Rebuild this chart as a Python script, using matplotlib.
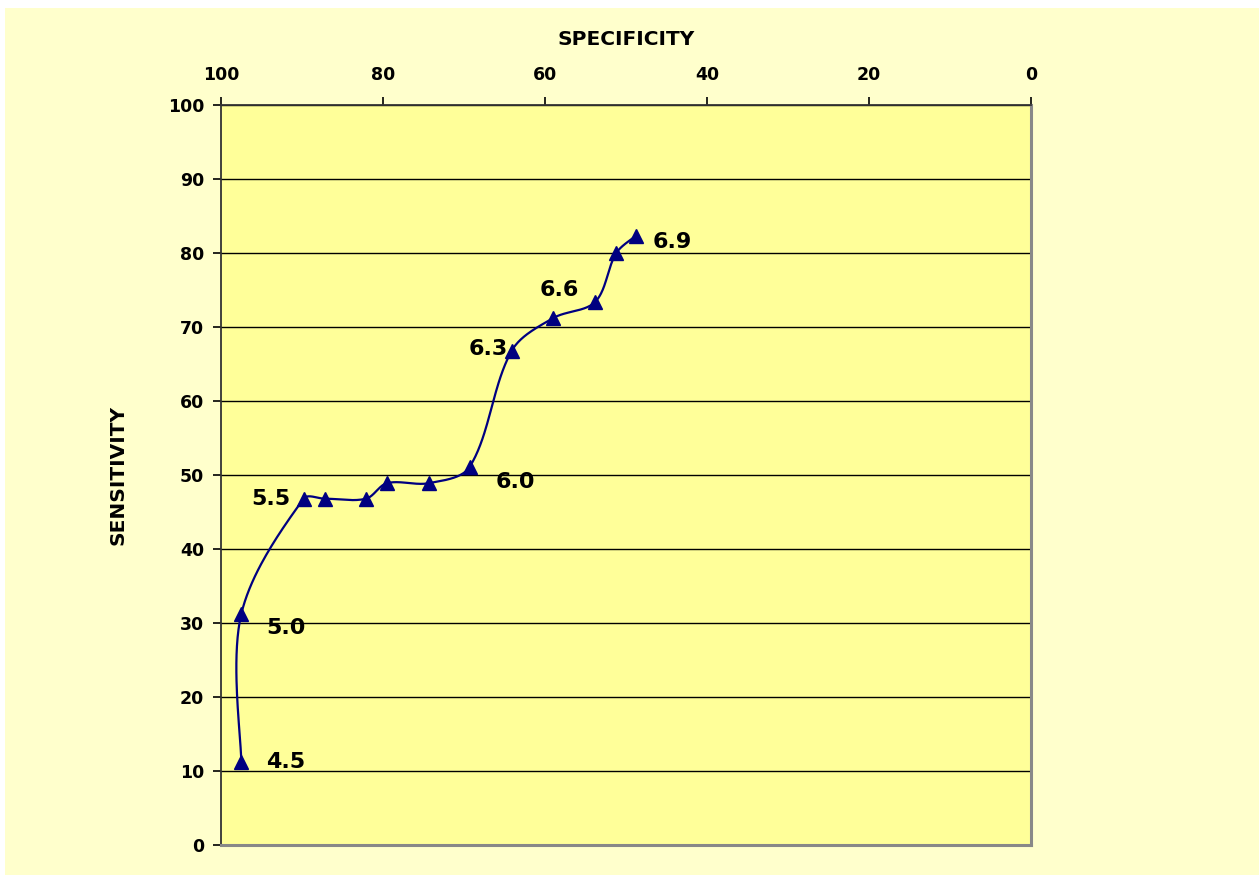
import numpy as np
import matplotlib
matplotlib.use("Agg")
import matplotlib.pyplot as plt
from matplotlib.patches import Rectangle

# ROC points: specificity (x) vs sensitivity (y)
specificity = [97.5, 97.5, 89.8, 87.2, 82.1, 79.5, 74.3, 69.3, 64.1, 59.0, 53.8, 51.2, 48.8]
sensitivity = [11.2, 31.2, 46.8, 46.8, 46.8, 48.9, 48.9, 51.1, 66.8, 71.2, 73.4, 80.0, 82.3]

# cut-off labels: (point index, text, offset in points)
cutoffs = [(0, "4.5", (18, 0)), (1, "5.0", (18, -10)), (2, "5.5", (-38, 0)),
           (7, "6.0", (19, -11)), (8, "6.3", (-31, 1)), (9, "6.6", (-10, 20)),
           (12, "6.9", (12, -4))]

plt.rcParams["font.family"] = "DejaVu Sans"
plt.rcParams["font.weight"] = "bold"

fig = plt.figure(figsize=(12.59, 8.75), dpi=100, facecolor="white")
fig.patches.append(Rectangle((5 / 1259, 0), 1, 1 - 8 / 875, transform=fig.transFigure,
                             facecolor="#FFFFCC", edgecolor="none", zorder=-10))

ax = fig.add_axes([221 / 1259, 30 / 875, 810 / 1259, 740 / 875])
ax.set_facecolor("#FFFF99")
ax.set_xlim(100, 0)
ax.set_ylim(0, 100)
ax.set_xticks(np.arange(100, -1, -20))
ax.set_yticks(np.arange(0, 101, 10))
ax.xaxis.tick_top()
ax.xaxis.set_label_position("top")
ax.tick_params(axis="both", direction="out", length=6, width=1.2, labelsize=12.5, colors="black")
ax.tick_params(axis="x", pad=9)
ax.tick_params(axis="y", pad=6)
ax.yaxis.grid(True, color="black", linewidth=1.0)
ax.set_axisbelow(True)
for s in ("left", "top"):
    ax.spines[s].set_color("#333333")
    ax.spines[s].set_linewidth(1.3)
for s in ("right", "bottom"):
    ax.spines[s].set_color("#888888")
    ax.spines[s].set_linewidth(2.2)

ax.set_xlabel("SPECIFICITY", fontsize=14.5, fontweight="bold", labelpad=15)
ax.set_ylabel("SENSITIVITY", fontsize=14.5, fontweight="bold", labelpad=29)

# smoothed line: chord-weighted Bezier spline built in display space
fig.canvas.draw()
pts = ax.transData.transform(np.column_stack([specificity, sensitivity]))
n = len(pts)
curve = []
t = np.linspace(0, 1, 40)[:, None]
for i in range(n - 1):
    p0 = pts[max(i - 1, 0)]
    p1 = pts[i]
    p2 = pts[i + 1]
    p3 = pts[min(i + 2, n - 1)]
    d01 = np.linalg.norm(p1 - p0)
    d12 = np.linalg.norm(p2 - p1)
    d23 = np.linalg.norm(p3 - p2)
    c1 = p1 + (p2 - p0) * (d12 / (d01 + d12) / 3 if d01 > 0 else 1 / 6)
    c2 = p2 - (p3 - p1) * (d12 / (d12 + d23) / 3 if d23 > 0 else 1 / 6)
    seg = (1 - t) ** 3 * p1 + 3 * (1 - t) ** 2 * t * c1 + 3 * (1 - t) * t ** 2 * c2 + t ** 3 * p2
    curve.append(seg)
curve = ax.transData.inverted().transform(np.vstack(curve))
ax.plot(curve[:, 0], curve[:, 1], color="#000080", linewidth=1.6, zorder=3)
ax.plot(specificity, sensitivity, linestyle="none", marker="^", markersize=10,
        color="#000080", zorder=4)

for idx, txt, off in cutoffs:
    ax.annotate(txt, (specificity[idx], sensitivity[idx]), xytext=off,
                textcoords="offset points", fontsize=16, fontweight="bold",
                ha="left", va="center", color="black")

fig.savefig("out.png", dpi=100, facecolor=fig.get_facecolor())
